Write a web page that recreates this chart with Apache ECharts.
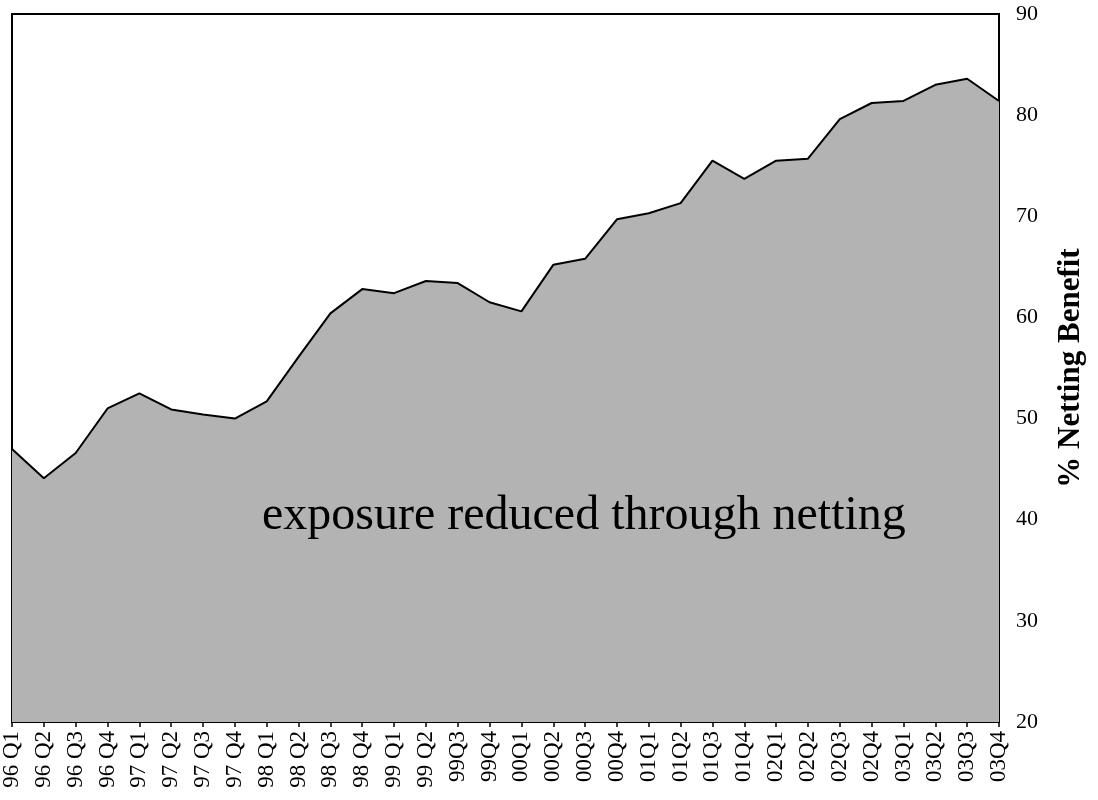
<!DOCTYPE html>
<html>
<head>
<meta charset="utf-8">
<script src="https://cdn.jsdelivr.net/npm/echarts@6/dist/echarts.min.js"></script>
<style>
html,body{margin:0;padding:0;background:#fff;}
#chart{width:1098px;height:800px;}
</style>
</head>
<body>
<div id="chart"></div>
<script>
const categories = ["96 Q1","96 Q2","96 Q3","96 Q4","97 Q1","97 Q2","97 Q3","97 Q4","98 Q1","98 Q2","98 Q3","98 Q4","99 Q1","99 Q2","99Q3","99Q4","00Q1","00Q2","00Q3","00Q4","01Q1","01Q2","01Q3","01Q4","02Q1","02Q2","02Q3","02Q4","03Q1","03Q2","03Q3","03Q4"];
const nettingBenefit = [47.0,44.1,46.6,51.0,52.5,50.9,50.4,50.0,51.7,56.1,60.4,62.8,62.4,63.6,63.4,61.5,60.6,65.2,65.8,69.7,70.3,71.3,75.5,73.7,75.5,75.7,79.6,81.2,81.4,83.0,83.6,81.4];
const yTicks = {min:20, max:90, interval:10};
const axisName = "% Netting Benefit";
const annotation = "exposure reduced through netting";

const chart = echarts.init(document.getElementById('chart'));
const serif = '"Liberation Serif","Times New Roman",serif';
chart.setOption({
  animation:false,
  backgroundColor:'#fff',
  grid:{left:12,right:99,top:14,bottom:78,show:true,borderColor:'#000',borderWidth:2,backgroundColor:'transparent'},
  xAxis:{
    type:'category',
    data:categories,
    boundaryGap:false,
    axisLine:{lineStyle:{color:'#000',width:2}},
    axisTick:{show:true,inside:false,length:5,lineStyle:{color:'#000',width:1.5},alignWithLabel:true},
    axisLabel:{rotate:90,interval:0,margin:9,fontFamily:serif,fontSize:23,color:'#000'},
    splitLine:{show:false}
  },
  yAxis:{
    type:'value',
    position:'right',
    min:yTicks.min,max:yTicks.max,interval:yTicks.interval,
    name:axisName,
    nameLocation:'middle',
    nameRotate:90,
    nameGap:56,
    nameTextStyle:{fontFamily:serif,fontSize:31,fontWeight:'bold',color:'#000'},
    axisLine:{show:true,lineStyle:{color:'#000',width:2}},
    axisTick:{show:true,inside:true,length:6,lineStyle:{color:'#000',width:1.5}},
    axisLabel:{margin:17,fontFamily:serif,fontSize:22,color:'#000'},
    splitLine:{show:false}
  },
  series:[{
    type:'line',
    data:nettingBenefit,
    symbol:'none',
    lineStyle:{color:'#000',width:2},
    areaStyle:{color:'#b3b3b3',opacity:1},
    z:1
  }],
  graphic:[{
    type:'text',
    left:262,
    top:492,
    z:10,
    style:{text:annotation,font:'48px "Liberation Serif","Times New Roman",serif',fill:'#000'}
  }]
});
</script>
</body>
</html>
